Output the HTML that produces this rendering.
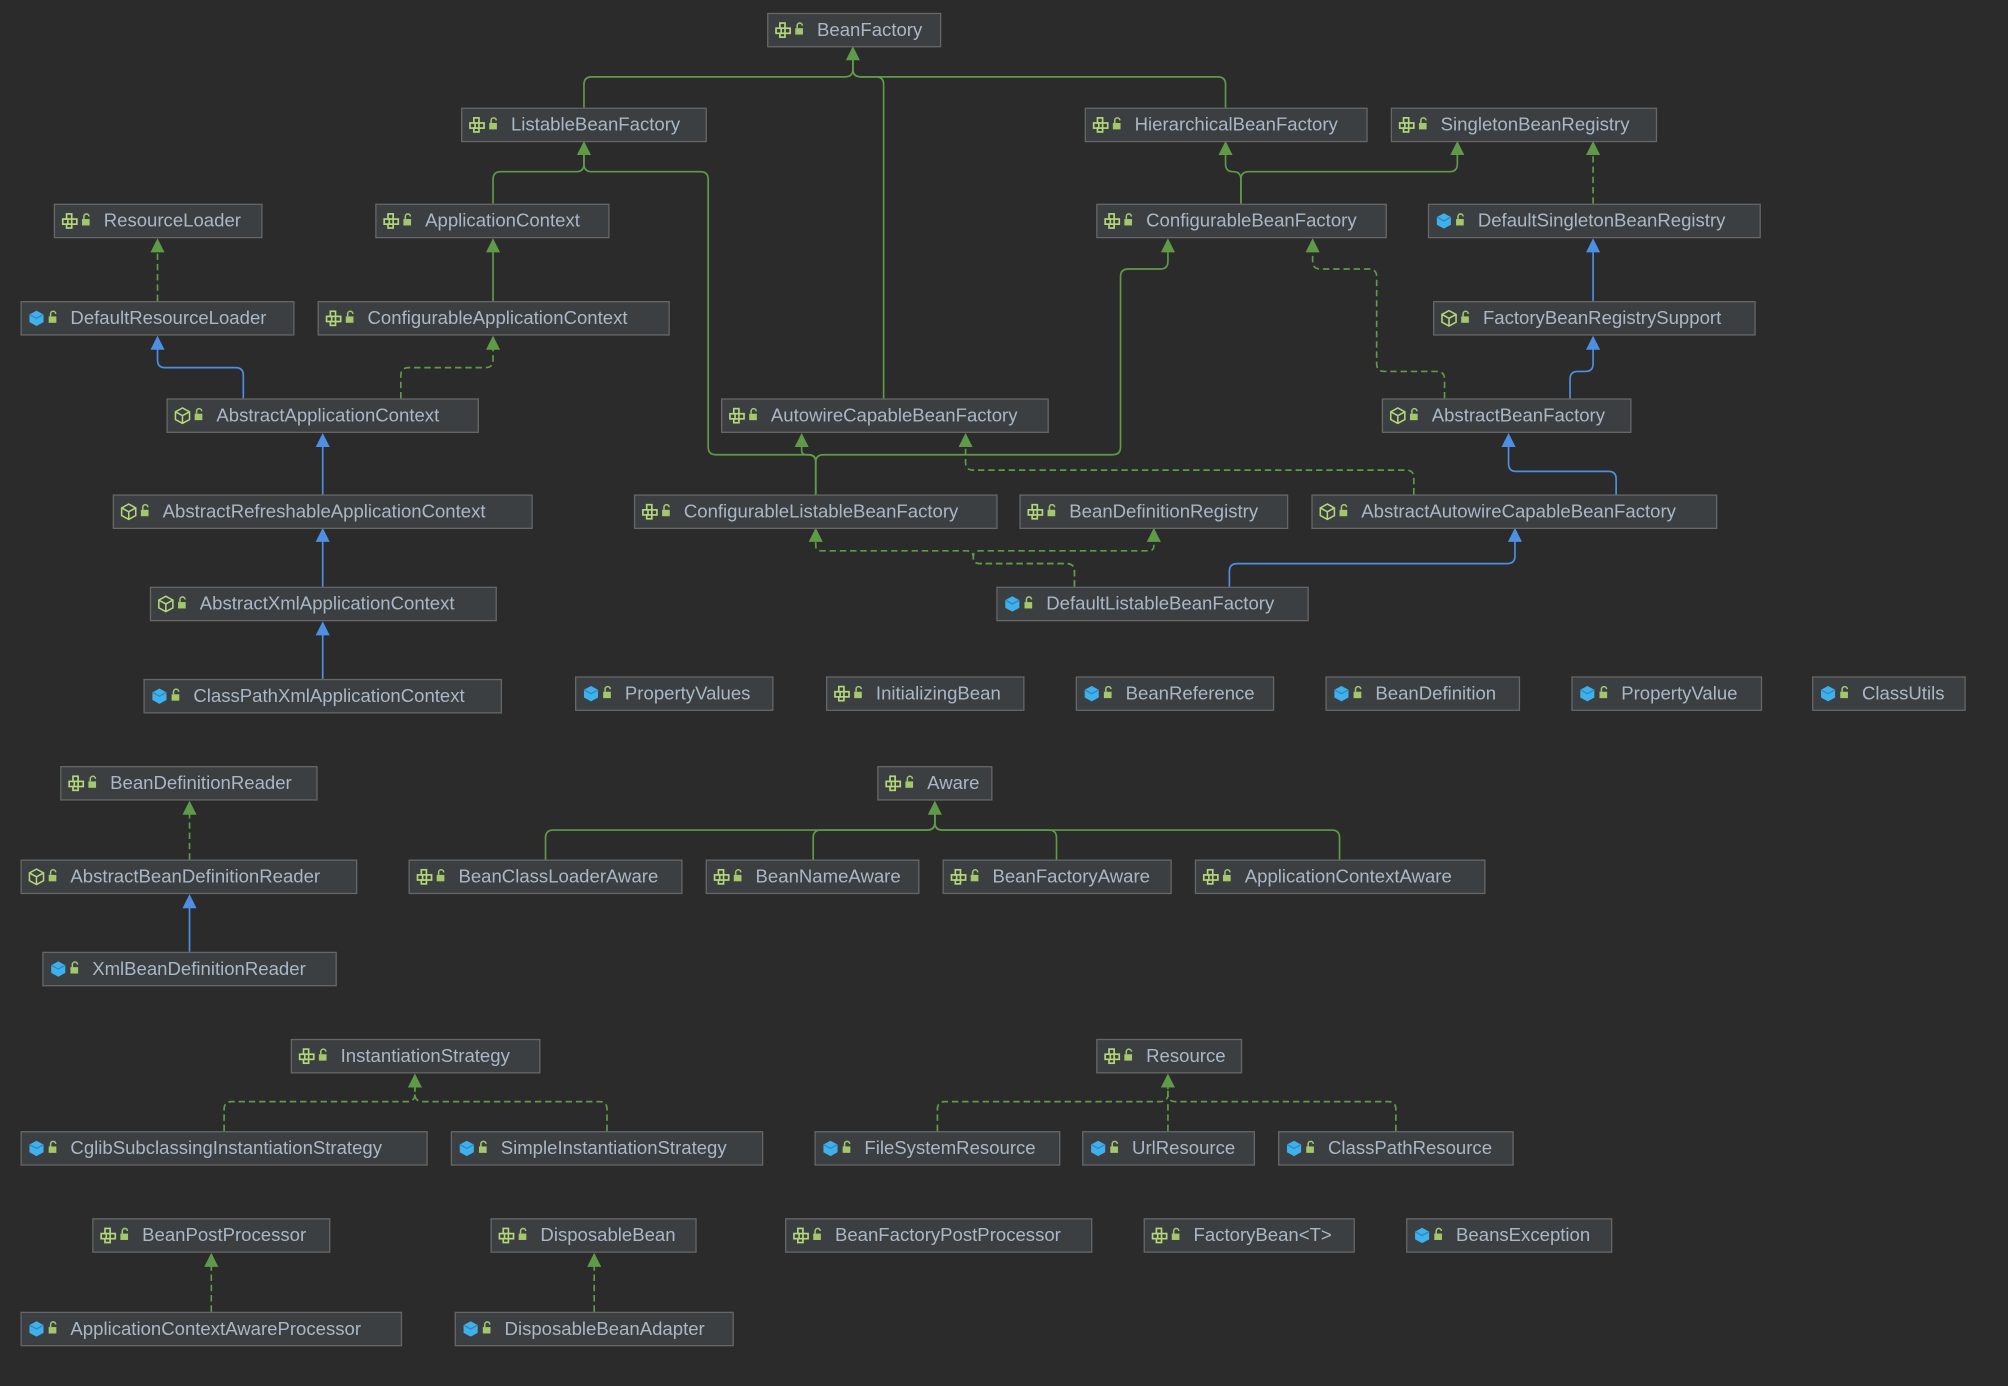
<!DOCTYPE html>
<html><head><meta charset="utf-8"><style>
html,body{margin:0;padding:0;background:#2b2b2b;}
svg{display:block;}
text{font-family:"Liberation Sans",sans-serif;font-size:14.5px;fill:#a9b7c6;}
</style></head><body>
<svg id="s" width="2008" height="1386" viewBox="0 0 1568 1082" preserveAspectRatio="none" xmlns="http://www.w3.org/2000/svg">
<rect width="1568" height="1082" fill="#2b2b2b"/>
<g id="edges" fill="none" stroke-width="1.3"></g>
<g id="nodes"></g>
</svg>
<script>
const G="#5f9a48",B="#4d8fe3";
const nodes=[
["BeanFactory",599,734,10,"i"],
["ListableBeanFactory",360,551,84,"i"],["HierarchicalBeanFactory",847,1067,84,"i"],["SingletonBeanRegistry",1086,1293,84,"i"],
["ResourceLoader",42,204,159,"i"],["ApplicationContext",293,475,159,"i"],["ConfigurableBeanFactory",856,1082,159,"i"],["DefaultSingletonBeanRegistry",1115,1374,159,"c"],
["DefaultResourceLoader",16,229,235,"c"],["ConfigurableApplicationContext",248,522,235,"i"],["FactoryBeanRegistrySupport",1119,1370,235,"a"],
["AbstractApplicationContext",130,373,311,"a"],["AutowireCapableBeanFactory",563,818,311,"i"],["AbstractBeanFactory",1079,1273,311,"a"],
["AbstractRefreshableApplicationContext",88,415,386,"a"],["ConfigurableListableBeanFactory",495,778,386,"i"],["BeanDefinitionRegistry",796,1005,386,"i"],["AbstractAutowireCapableBeanFactory",1024,1340,386,"a"],
["AbstractXmlApplicationContext",117,387,458,"a"],["DefaultListableBeanFactory",778,1021,458,"c"],
["ClassPathXmlApplicationContext",112,391,530,"c"],["PropertyValues",449,603,528,"c"],["InitializingBean",645,799,528,"i"],["BeanReference",840,994,528,"c"],["BeanDefinition",1035,1186,528,"c"],["PropertyValue",1227,1375,528,"c"],["ClassUtils",1415,1534,528,"c"],
["BeanDefinitionReader",47,247,598,"i"],["Aware",685,774,598,"i"],
["AbstractBeanDefinitionReader",16,278,671,"a"],["BeanClassLoaderAware",319,532,671,"i"],["BeanNameAware",551,717,671,"i"],["BeanFactoryAware",736,914,671,"i"],["ApplicationContextAware",933,1159,671,"i"],
["XmlBeanDefinitionReader",33,262,743,"c"],
["InstantiationStrategy",227,421,811,"i"],["Resource",856,969,811,"i"],
["CglibSubclassingInstantiationStrategy",16,333,883,"c"],["SimpleInstantiationStrategy",352,595,883,"c"],["FileSystemResource",636,827,883,"c"],["UrlResource",845,979,883,"c"],["ClassPathResource",998,1181,883,"c"],
["BeanPostProcessor",72,257,951,"i"],["DisposableBean",383,543,951,"i"],["BeanFactoryPostProcessor",613,852,951,"i"],["FactoryBean<T>",893,1057,951,"i"],["BeansException",1098,1258,951,"c"],
["ApplicationContextAwareProcessor",16,313,1024,"c"],["DisposableBeanAdapter",355,572,1024,"c"]
];
const esc=s=>s.replace(/</g,"&lt;").replace(/>/g,"&gt;");
let h="";
for(const [n,x1,x2,y,t] of nodes){
 h+=`<rect x="${x1}.5" y="${y}.5" width="${x2-x1}" height="26" fill="#3c3f41" stroke="#676767" stroke-width="1"/>`;
 const ix=x1+7,iy=y+8;
 if(t=="i"){h+=`<g fill="none" stroke="#b5d77a" stroke-width="1.3"><rect x="${ix+3}" y="${iy}" width="4" height="4"/><rect x="${ix}" y="${iy+4}" width="4" height="4"/><rect x="${ix+7}" y="${iy+4}" width="4" height="4"/><rect x="${ix+3}" y="${iy+8}" width="4" height="3"/></g>`;}
 else if(t=="c"){h+=`<path d="M${ix+5.5} ${iy-0.5} L${ix+11} ${iy+2.5} V${iy+8.5} L${ix+5.5} ${iy+11.5} L${ix} ${iy+8.5} V${iy+2.5}Z" fill="#3fb0ea"/><path d="M${ix} ${iy+2.5} L${ix+5.5} ${iy+5.5} L${ix+11} ${iy+2.5}" stroke="#2b88c4" fill="none"/>`;}
 else {h+=`<path d="M${ix+5.5} ${iy-0.5} L${ix+11} ${iy+2.5} V${iy+8.5} L${ix+5.5} ${iy+11.5} L${ix} ${iy+8.5} V${iy+2.5}Z M${ix} ${iy+2.5} L${ix+5.5} ${iy+5.5} L${ix+11} ${iy+2.5} M${ix+5.5} ${iy+5.5} V${iy+11.5}" stroke="#b5d77a" stroke-width="1.2" fill="none"/>`;}
 const lx=x1+22,ly=y+10;
 h+=`<rect x="${lx}" y="${ly+2}" width="6" height="5" fill="#a4c66d"/><path d="M${lx+1.5} ${ly+2} V${ly} A2 2 0 0 1 ${lx+5.5} ${ly}" stroke="#a4c66d" stroke-width="1.2" fill="none"/>`;
 h+=`<text x="${x1+39}" y="${y+18}">${esc(n)}</text>`;
}
document.getElementById("nodes").innerHTML=h;
function path(pts){let d=`M${pts[0][0]} ${pts[0][1]}`;const r=6;
 for(let i=1;i<pts.length-1;i++){const [px,py]=pts[i-1],[cx,cy]=pts[i],[nx,ny]=pts[i+1];
  const d1=Math.hypot(cx-px,cy-py),d2=Math.hypot(nx-cx,ny-cy);const rr=Math.min(r,d1/2,d2/2);
  const ax=cx-(cx-px)/d1*rr,ay=cy-(cy-py)/d1*rr,bx=cx+(nx-cx)/d2*rr,by=cy+(ny-cy)/d2*rr;
  d+=` L${ax} ${ay} Q${cx} ${cy} ${bx} ${by}`;}
 const l=pts[pts.length-1];d+=` L${l[0]} ${l[1]}`;return d;}
let e="";const tips=new Set();
function E(c,dash,pts){const l=pts[pts.length-1];const p=pts.slice();p[p.length-1]=[l[0],l[1]+10];
 e+=`<path d="${path(p)}" stroke="${c}" ${dash?'stroke-dasharray="5 3"':''}/>`;
 const k=l+c;if(!tips.has(k)){tips.add(k);e+=`<path d="M${l[0]} ${l[1]} L${l[0]+5.5} ${l[1]+11} L${l[0]-5.5} ${l[1]+11}Z" fill="${c}" stroke="none"/>`;}}
E(G,0,[[456,84],[456,60],[666,60],[666,36]]);
E(G,0,[[957,84],[957,60],[666,60],[666,36]]);
E(G,0,[[690,311],[690,60],[666,60],[666,36]]);
E(G,0,[[385,159],[385,134],[456,134],[456,110]]);
E(G,0,[[637,386],[637,355],[553,355],[553,134],[456,134],[456,110]]);
E(G,0,[[637,386],[637,355],[626,355],[626,338]]);
E(G,0,[[637,386],[637,355],[875,355],[875,210],[912,210],[912,186]]);
E(G,0,[[969,159],[969,134],[957,134],[957,110]]);
E(G,0,[[969,159],[969,134],[1138,134],[1138,110]]);
E(G,1,[[1244,159],[1244,110]]);
E(B,0,[[1244,235],[1244,186]]);
E(B,0,[[1226,311],[1226,290],[1244,290],[1244,262]]);
E(G,1,[[1128,311],[1128,290],[1075,290],[1075,210],[1025,210],[1025,186]]);
E(B,0,[[1262,386],[1262,368],[1178,368],[1178,338]]);
E(G,1,[[1104,386],[1104,367],[754,367],[754,338]]);
E(G,1,[[839,458],[839,440],[760,440],[760,430],[637,430],[637,412]]);
E(G,1,[[839,458],[839,440],[760,440],[760,430],[901,430],[901,412]]);
E(B,0,[[960,458],[960,440],[1183,440],[1183,412]]);
E(G,1,[[123,235],[123,186]]);
E(B,0,[[190,311],[190,287],[123,287],[123,262]]);
E(G,1,[[313,311],[313,287],[385,287],[385,262]]);
E(G,0,[[385,235],[385,186]]);
E(B,0,[[252,386],[252,338]]);
E(B,0,[[252,458],[252,412]]);
E(B,0,[[252,530],[252,485]]);
E(G,1,[[148,671],[148,625]]);
E(B,0,[[148,743],[148,698]]);
for(const x of [426,635,825,1046])E(G,0,[[x,671],[x,648],[730,648],[730,625]]);
for(const x of [175,474])E(G,1,[[x,883],[x,860],[324,860],[324,838]]);
for(const x of [732,912,1090])E(G,1,[[x,883],[x,860],[912,860],[912,838]]);
E(G,1,[[165,1024],[165,978]]);
E(G,1,[[464,1024],[464,978]]);
document.getElementById("edges").innerHTML=e;
</script>
</body></html>
